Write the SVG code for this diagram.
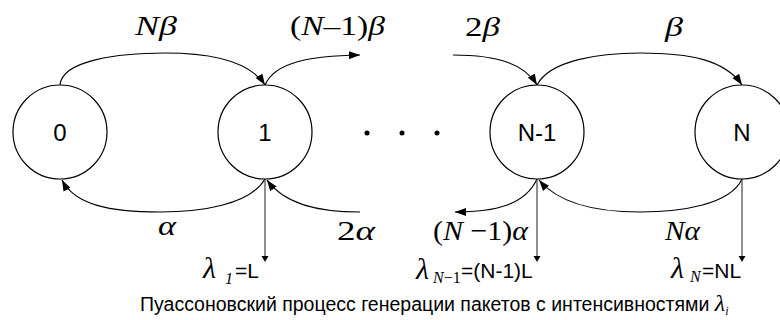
<svg xmlns="http://www.w3.org/2000/svg" width="780" height="320" viewBox="0 0 780 320">
<style>
.node{fill:#fff;stroke:#000;stroke-width:1.2}
.nl{font-family:"Liberation Sans",Arial,sans-serif;font-size:24px;text-anchor:middle;dominant-baseline:central}
.edge{fill:none;stroke:#000;stroke-width:1.1}
.drop{fill:none;stroke:#333;stroke-width:1.1}
.g{font-family:"Liberation Serif","Times New Roman",serif;font-size:28px;font-style:italic}
.up{font-style:normal}
.l{font-family:"Liberation Serif","Times New Roman",serif;font-size:30px;font-style:italic}
.s{font-family:"Liberation Sans",Arial,sans-serif;font-size:21px}
.cap{font-family:"Liberation Sans",Arial,sans-serif;font-size:19.5px}
.sub{font-family:"Liberation Serif","Times New Roman",serif;font-size:16px;font-style:italic}
</style>
<defs>
<marker id="ah" viewBox="0 0 11 8" refX="11" refY="4" markerWidth="11" markerHeight="8" markerUnits="userSpaceOnUse" orient="auto">
<path d="M0,0 L11,4 L0,8 Z" fill="#000"/>
</marker>
<marker id="ahs" viewBox="0 0 6 8" refX="4" refY="4" markerWidth="6" markerHeight="8" markerUnits="userSpaceOnUse" orient="auto">
<path d="M0,0.5 L6,4 L0,7.5 Z" fill="#000"/>
</marker>
</defs>
<g id="connectors">
<path class="edge" d="M60,85 C62,60 120,53 165,53 C215,53 250,62 265,85" marker-end="url(#ah)"/>
<path class="edge" d="M265,85 C275,62 310,56 360,55" marker-end="url(#ah)"/>
<path class="edge" d="M453,55 C500,55 525,65 537,85" marker-end="url(#ah)"/>
<path class="edge" d="M537,85 C550,60 600,53 640,53 C690,53 725,60 742,85" marker-end="url(#ah)"/>
<path class="edge" d="M265,179 C250,205 200,212 160,212 C110,212 75,205 62,180" marker-end="url(#ah)"/>
<path class="edge" d="M360,212 C320,212 285,205 267,180" marker-end="url(#ah)"/>
<path class="edge" d="M742,179 C730,205 680,212 640,212 C600,212 560,205 539,180" marker-end="url(#ah)"/>
<path class="edge" d="M537,179 C525,205 495,212 455,212" marker-end="url(#ah)"/>
<path class="drop" d="M265,179 V260" marker-end="url(#ahs)"/>
<path class="drop" d="M537,179 V260" marker-end="url(#ahs)"/>
<path class="drop" d="M742,179 V260" marker-end="url(#ahs)"/>
</g>
<g id="node0"><circle class="node" cx="60" cy="132" r="47"/><text class="nl" x="60" y="132">0</text></g>
<g id="node1"><circle class="node" cx="265" cy="132" r="47"/><text class="nl" x="265" y="132">1</text></g>
<g id="nodeN-1"><circle class="node" cx="537" cy="132" r="47"/><text class="nl" x="537" y="132">N-1</text></g>
<g id="nodeN"><circle class="node" cx="742" cy="132" r="47"/><text class="nl" x="742" y="132">N</text></g>
<g id="dots" fill="#000"><circle cx="367" cy="133" r="2.5"/><circle cx="402" cy="133" r="2.5"/><circle cx="437" cy="133" r="2.5"/></g>
<g id="labels">
<text class="g" x="135" y="35" textLength="42" lengthAdjust="spacingAndGlyphs">Nβ</text>
<text class="g" x="290" y="35" textLength="95" lengthAdjust="spacingAndGlyphs"><tspan class="up">(</tspan>N<tspan class="up">–1)</tspan>β</text>
<text class="g" x="465" y="36" textLength="35" lengthAdjust="spacingAndGlyphs"><tspan class="up">2</tspan>β</text>
<text class="g" x="665" y="36" textLength="18" lengthAdjust="spacingAndGlyphs">β</text>
<text class="g" x="158" y="235" textLength="18" lengthAdjust="spacingAndGlyphs">α</text>
<text class="g" x="337" y="240" textLength="38" lengthAdjust="spacingAndGlyphs"><tspan class="up">2</tspan>α</text>
<text class="g" x="433" y="240" textLength="95" lengthAdjust="spacingAndGlyphs"><tspan class="up">(</tspan>N <tspan class="up">−1)</tspan>α</text>
<text class="g" x="665" y="240" textLength="35" lengthAdjust="spacingAndGlyphs">Nα</text>
<text class="l" x="203" y="278">λ</text><text class="sub" x="225" y="284" font-style="normal">1</text><text class="s" x="235" y="278">=L</text>
<text class="l" x="416" y="279">λ</text><text class="sub" x="433" y="283">N<tspan font-style="normal">−1</tspan></text><text class="s" x="461" y="278">=(N-1)L</text>
<text class="l" x="671" y="278">λ</text><text class="sub" x="690" y="282">N</text><text class="s" x="702" y="278">=NL</text>
<text class="cap" x="140" y="311">Пуассоновский процесс генерации пакетов с интенсивностями <tspan font-family="Liberation Serif,serif" font-style="italic" font-size="24">λ</tspan><tspan font-family="Liberation Serif,serif" font-style="italic" font-size="12" dy="4">i</tspan></text>
</g>
</svg>
